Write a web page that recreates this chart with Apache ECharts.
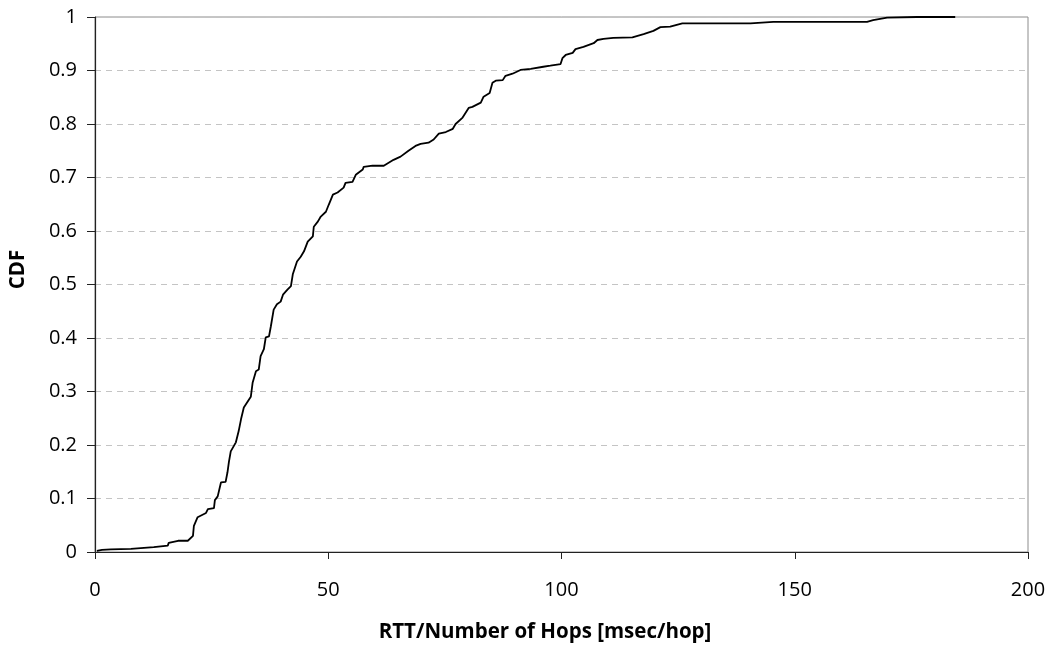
<!DOCTYPE html>
<html>
<head>
<meta charset="utf-8">
<title>CDF of RTT per hop</title>
<script src="https://cdn.jsdelivr.net/npm/echarts@6/dist/echarts.min.js"></script>
<style>
  html, body { margin: 0; padding: 0; background: #fff; }
  #chart { width: 1055px; height: 648px; }
</style>
</head>
<body>
<div id="chart"></div>
<script>
// RTT divided by hop count (msec/hop)
const rttPerHop = [
  0.4, 1.5, 3.4, 7.7, 12.6, 15.6, 15.8, 17.8, 19.9, 21.0, 21.2, 22.0, 23.8, 24.2,
  25.5, 25.7, 26.3, 27.0, 28.0, 28.4, 28.7, 29.1, 30.2, 30.8, 31.3, 31.9, 33.4,
  33.8, 34.5, 35.1, 35.5, 36.2, 36.6, 37.3, 37.7, 38.3, 39.0, 39.8, 40.3, 41.3,
  42.0, 42.4, 43.3, 44.1, 44.8, 45.6, 46.7, 46.9, 47.8, 48.4, 49.5, 50.1, 51.0,
  52.0, 53.3, 53.7, 55.2, 55.9, 57.4, 57.6, 59.5, 61.9, 64.0, 65.5, 67.2, 68.7,
  69.8, 71.5, 72.6, 73.7, 75.2, 76.7, 77.3, 78.8, 80.1, 80.9, 82.7, 83.3, 84.6,
  85.2, 85.9, 87.4, 88.0, 89.5, 91.2, 93.4, 96.1, 97.6, 99.8, 100.2, 100.9, 102.4,
  103.0, 104.7, 106.9, 107.7, 109.0, 111.1, 115.2, 117.6, 119.7, 121.2, 123.3,
  125.9, 140.5, 145.4, 165.5, 166.8, 169.8, 176.2, 184.4
];

// cumulative fraction at each value above
const cdfValues = [
  0.002, 0.004, 0.005, 0.006, 0.009, 0.012, 0.017, 0.021, 0.021, 0.030, 0.049,
  0.065, 0.073, 0.080, 0.082, 0.097, 0.104, 0.130, 0.131, 0.149, 0.168, 0.188,
  0.205, 0.226, 0.248, 0.270, 0.290, 0.317, 0.338, 0.341, 0.366, 0.379, 0.401,
  0.403, 0.422, 0.453, 0.463, 0.468, 0.481, 0.491, 0.497, 0.519, 0.543, 0.552,
  0.562, 0.580, 0.590, 0.608, 0.618, 0.627, 0.636, 0.649, 0.668, 0.672, 0.681,
  0.690, 0.692, 0.705, 0.715, 0.720, 0.722, 0.722, 0.733, 0.739, 0.750, 0.759,
  0.763, 0.765, 0.771, 0.782, 0.785, 0.791, 0.800, 0.812, 0.830, 0.832, 0.840,
  0.851, 0.858, 0.877, 0.881, 0.882, 0.890, 0.894, 0.901, 0.903, 0.907, 0.909,
  0.912, 0.923, 0.929, 0.933, 0.940, 0.944, 0.951, 0.957, 0.959, 0.961, 0.962,
  0.968, 0.974, 0.981, 0.982, 0.988, 0.988, 0.991, 0.991, 0.994, 0.999, 1.000,
  1.000
];

const xTitle = 'RTT/Number of Hops [msec/hop]';
const yTitle = 'CDF';

const points = rttPerHop.map((x, i) => [x, cdfValues[i]]);
const FONT = 'Open Sans';

const chart = echarts.init(document.getElementById('chart'), null, { renderer: 'canvas' });
chart.setOption({
  animation: false,
  backgroundColor: '#fff',
  grid: {
    left: 94, right: 27, top: 17, bottom: 95,
    show: true, borderColor: '#8c8c8c', borderWidth: 1
  },
  xAxis: {
    type: 'value',
    min: 0, max: 200, interval: 50,
    name: xTitle,
    nameLocation: 'middle',
    nameGap: 70,
    nameTextStyle: {
      fontFamily: FONT, fontSize: 20.5, fontWeight: 'bold', color: '#000',
      padding: [0, 33, 0, 0]
    },
    axisLine: { show: true, onZero: false, lineStyle: { color: '#222', width: 1.2 } },
    axisTick: { show: true, inside: false, length: 7, lineStyle: { color: '#222' } },
    axisLabel: { fontFamily: FONT, fontSize: 20, color: '#000', margin: 28 },
    splitLine: { show: false }
  },
  yAxis: {
    type: 'value',
    min: 0, max: 1, interval: 0.1,
    name: yTitle,
    nameLocation: 'middle',
    nameGap: 66,
    nameRotate: 90,
    nameTextStyle: {
      fontFamily: FONT, fontSize: 20.5, fontWeight: 'bold', color: '#000',
      padding: [0, 0, 0, 30]
    },
    axisLine: { show: true, lineStyle: { color: '#222', width: 1.2 } },
    axisTick: { show: true, inside: false, length: 8, lineStyle: { color: '#222' } },
    axisLabel: { fontFamily: FONT, fontSize: 20, color: '#000', margin: 18 },
    splitLine: { show: true, lineStyle: { color: '#c4c4c4', type: [6, 5], width: 1 } }
  },
  series: [{
    type: 'line',
    data: points,
    showSymbol: false,
    smooth: false,
    lineStyle: { color: '#000', width: 1.8 },
    z: 3
  }]
});
</script>
</body>
</html>
